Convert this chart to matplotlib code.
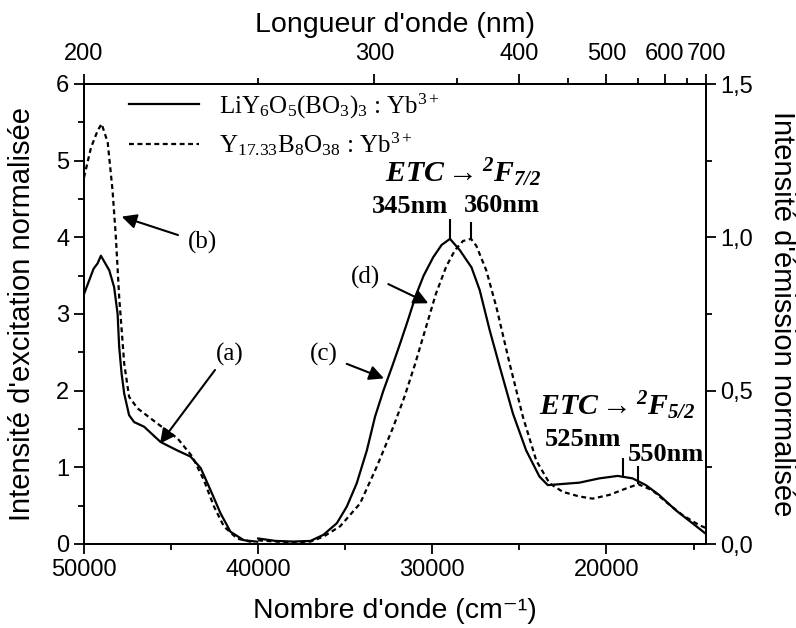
import numpy as np
import matplotlib
matplotlib.use("Agg")
import matplotlib.pyplot as plt

plt.rcParams['font.family'] = ['Liberation Sans', 'DejaVu Sans']
plt.rcParams['mathtext.fontset'] = 'custom'
plt.rcParams['mathtext.rm'] = 'Liberation Serif'
plt.rcParams['mathtext.it'] = 'Liberation Serif:italic'
plt.rcParams['mathtext.bf'] = 'Liberation Serif:italic:bold'

SERIF = 'Liberation Serif'

# excitation spectra (left axis), wavenumber in cm-1
exc_w_li = [50000, 49450, 49220, 49030, 48550, 48270, 48070, 47980, 47840, 47690, 47410,
            47120, 46550, 45600, 44640, 43880, 43300, 42730, 42160, 41590, 40830, 40060]
exc_li = [3.26, 3.59, 3.66, 3.76, 3.57, 3.35, 3.00, 2.57, 2.22, 1.96, 1.68,
          1.59, 1.53, 1.33, 1.22, 1.14, 0.99, 0.70, 0.40, 0.16, 0.05, 0.03]

exc_w_y = [50000, 49600, 49220, 48990, 48640, 48360, 48170, 47980, 47690, 47410, 46930,
           45780, 44640, 43780, 43110, 42540, 41970, 41200, 40250]
exc_y = [4.78, 5.17, 5.39, 5.48, 5.24, 4.61, 4.00, 3.22, 2.35, 1.92, 1.77,
         1.57, 1.38, 1.14, 0.83, 0.49, 0.23, 0.07, 0.02]

# emission spectra (right axis), normalised
em_w_li = [40000, 39000, 38000, 37000, 36250, 35480, 34910, 34340, 33760, 33290, 32810,
           32300, 31860, 31400, 30950, 30500, 29950, 29470, 28986, 28420, 27750, 27280,
           26710, 26130, 25370, 24610, 23850, 23370, 22700, 21560, 20410, 19360, 18500,
           17740, 16980, 16020, 15070, 14400, 14286]
em_li = [0.018, 0.010, 0.008, 0.010, 0.030, 0.068, 0.122, 0.198, 0.305, 0.415, 0.500,
         0.580, 0.652, 0.730, 0.810, 0.875, 0.935, 0.975, 0.995, 0.958, 0.902, 0.828,
         0.698, 0.578, 0.425, 0.305, 0.220, 0.192, 0.195, 0.200, 0.214, 0.222, 0.214,
         0.192, 0.160, 0.110, 0.068, 0.038, 0.033]

em_w_y = [40000, 39000, 38000, 37000, 36250, 35290, 34150, 33190, 32240, 31600, 31000,
          30400, 29800, 29200, 28700, 28240, 27778, 27470, 26900, 26320, 25560, 24800,
          24030, 23270, 22510, 21560, 20800, 19840, 18880, 18182, 17360, 16600, 15650,
          14690, 14286]
em_y = [0.012, 0.008, 0.005, 0.008, 0.024, 0.058, 0.132, 0.252, 0.382, 0.480, 0.585,
        0.700, 0.815, 0.905, 0.958, 0.988, 0.995, 0.972, 0.892, 0.772, 0.588, 0.415,
        0.272, 0.198, 0.170, 0.155, 0.148, 0.160, 0.181, 0.195, 0.175, 0.138, 0.095,
        0.062, 0.052]

peaks_li_nm = [345, 525]
peaks_y_nm = [360, 550]

top_major_nm = [200, 300, 400, 500, 600, 700]
top_minor_nm = [250, 350, 450, 550, 650]

fig = plt.figure(figsize=(7.96, 6.28), dpi=100)
ax = fig.add_axes([84 / 796, 84 / 628, 622 / 796, 460 / 628])
ax2 = ax.twinx()

ls_dash = (0, (2.2, 1.6))
l1, = ax.plot(exc_w_li, exc_li, color='k', lw=1.6)
l2, = ax.plot(exc_w_y, exc_y, color='k', lw=1.6, linestyle=ls_dash)
ax2.plot(em_w_li, em_li, color='k', lw=1.6)
ax2.plot(em_w_y, em_y, color='k', lw=1.6, linestyle=ls_dash)

ax.set_xlim(50000, 1e7 / 700)
ax.set_ylim(0, 6)
ax2.set_ylim(0, 1.5)

ax.set_xticks([50000, 40000, 30000, 20000])
ax.set_xticks([45000, 35000, 25000, 15000], minor=True)
ax.set_yticks(range(7))
ax.set_yticks(np.arange(0.5, 6, 1.0), minor=True)
ax2.set_yticks([0, 0.5, 1.0, 1.5])
ax2.set_yticklabels(['0,0', '0,5', '1,0', '1,5'])
ax2.set_yticks([0.25, 0.75, 1.25], minor=True)

top = ax.twiny()
top.set_xlim(ax.get_xlim())
top.set_xticks([1e7 / n for n in top_major_nm])
top.set_xticklabels([str(n) for n in top_major_nm])
top.set_xticks([1e7 / n for n in top_minor_nm], minor=True)

for a in (ax, ax2, top):
    a.tick_params(which='major', direction='out', length=7, width=1.3, labelsize=17)
    a.tick_params(which='minor', direction='out', length=4, width=1.3)
    for s in a.spines.values():
        s.set_linewidth(1.3)
top.tick_params(which='major', pad=7)

ax.set_xlabel("Nombre d'onde (cm\u207b\u00b9)", fontsize=20.5)
top.set_xlabel("Longueur d'onde (nm)", fontsize=20.5)
ax.set_ylabel("Intensité d'excitation normalisée", fontsize=21, va='center')
ax2.set_ylabel("Intensité d'émission normalisée", fontsize=21, rotation=270,
               va='center')
ax.xaxis.set_label_coords(0.5, -0.117)
top.xaxis.set_label_coords(0.5, 1.113)
ax.yaxis.set_label_coords(-0.10, 0.5)
ax2.yaxis.set_label_coords(1.122, 0.5)

leg = ax2.legend([l1, l2],
                 [r'LiY$_6$O$_5$(BO$_3$)$_3$ : Yb$^{3+}$',
                  r'Y$_{17.33}$B$_8$O$_{38}$ : Yb$^{3+}$'],
                 loc='upper left', bbox_to_anchor=(0.045, 1.022), frameon=False,
                 prop={'family': SERIF, 'size': 18}, handlelength=2.8,
                 handletextpad=0.8, labelspacing=0.4, borderpad=0.2)

# peak markers
for nm, w_arr, e_arr, h in [(peaks_li_nm[0], em_w_li, em_li, 0.065),
                            (peaks_y_nm[0], em_w_y, em_y, 0.055),
                            (peaks_li_nm[1], em_w_li, em_li, 0.06),
                            (peaks_y_nm[1], em_w_y, em_y, 0.06)]:
    w = 1e7 / nm
    yv = np.interp(w, w_arr[::-1], e_arr[::-1])
    ax2.vlines(w, yv, yv + h, color='k', lw=1.5)

etc72 = r'$\mathbf{ETC}\rightarrow{}^{\mathbf{2}}\mathbf{F}_{\mathbf{7/2}}$'
etc52 = r'$\mathbf{ETC}\rightarrow{}^{\mathbf{2}}\mathbf{F}_{\mathbf{5/2}}$'
ax.text(28238, 4.85, etc72, fontsize=21.5, ha='center', va='center')
ax.text(19395, 1.81, etc52, fontsize=21.5, ha='center', va='center')
nm_kw = dict(family=SERIF, weight='bold', fontsize=19, ha='center', va='center')
ax.text(31281, 4.40, f'{peaks_li_nm[0]}nm', **nm_kw)
ax.text(26000, 4.42, f'{peaks_y_nm[0]}nm', **nm_kw)
ax.text(21347, 1.36, f'{peaks_li_nm[1]}nm', **nm_kw)
ax.text(16581, 1.17, f'{peaks_y_nm[1]}nm', **nm_kw)

# labelled arrows
arrow_kw = dict(arrowstyle='-|>', color='k', lw=1.5, mutation_scale=22,
                shrinkA=0, shrinkB=0)
for lab, txt_xy, tail, tip in [('(b)', (43224, 3.93), (44603, 4.03), (47835, 4.27)),
                               ('(a)', (41617, 2.47), (42478, 2.27), (45636, 1.31)),
                               ('(c)', (36219, 2.47), (34916, 2.35), (32774, 2.16)),
                               ('(d)', (33865, 3.48), (32527, 3.39), (30230, 3.14))]:
    ax.text(*txt_xy, lab, family=SERIF, fontsize=18, ha='center', va='center')
    ax.annotate('', xy=tip, xytext=tail, arrowprops=arrow_kw)

fig.savefig('out.png', dpi=100)
